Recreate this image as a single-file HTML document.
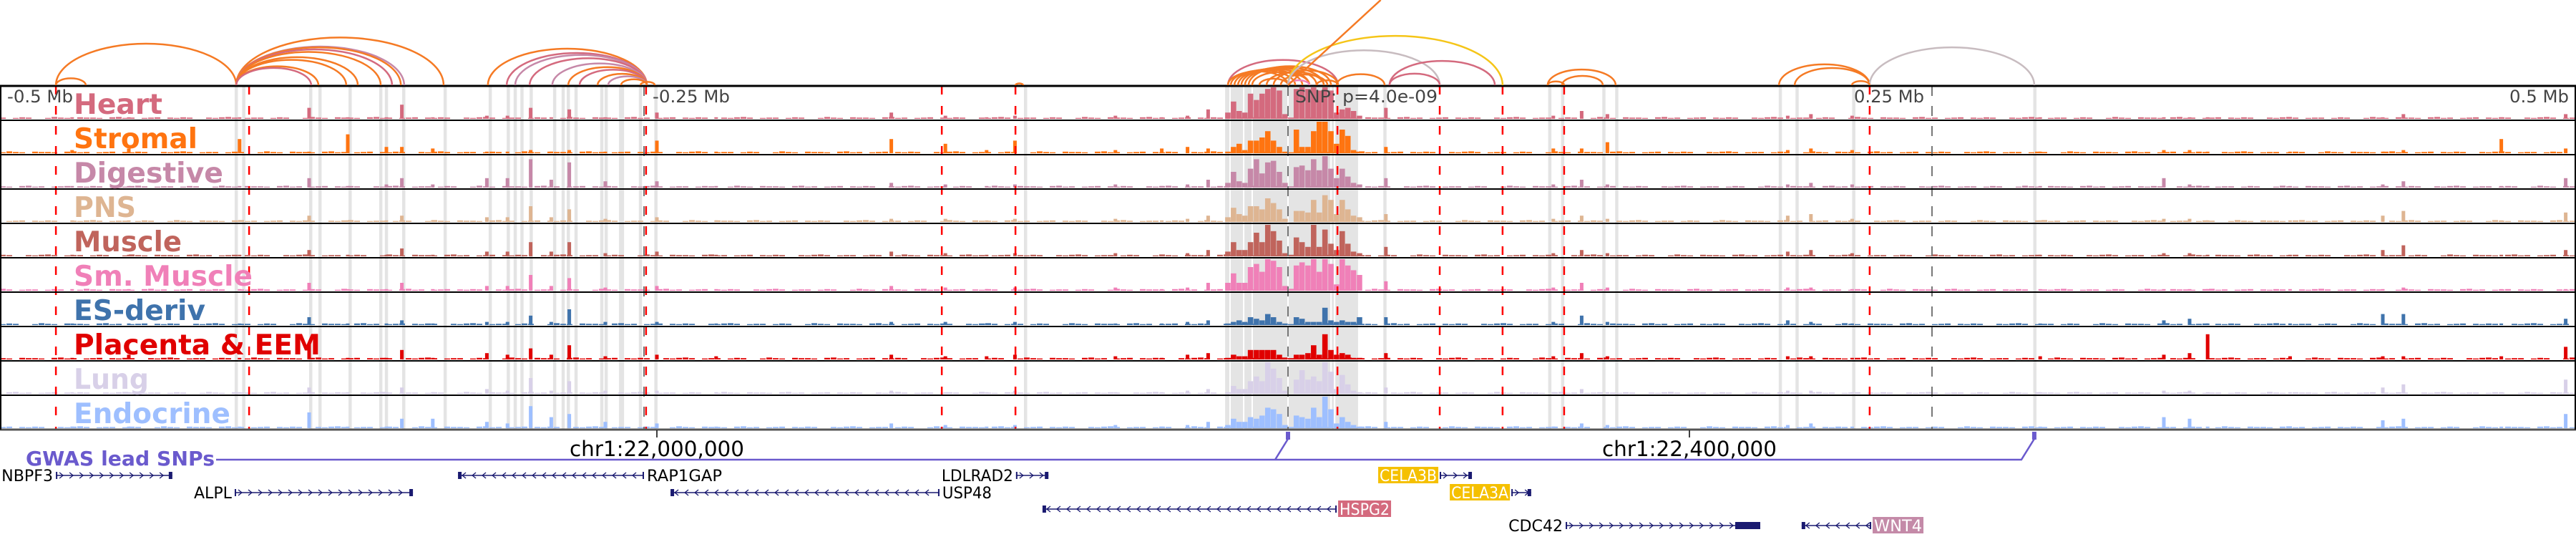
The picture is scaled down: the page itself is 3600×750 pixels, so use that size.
<!DOCTYPE html>
<html><head><meta charset="utf-8"><style>
html,body{margin:0;padding:0;background:#fff;}
svg{display:block;}
text{font-family:"DejaVu Sans","Liberation Sans",sans-serif;}
</style></head>
<body>
<svg id="chart" width="3600" height="750" viewBox="0 0 3600 750" xmlns="http://www.w3.org/2000/svg">
<g id="bands"></g>
<g id="signals"></g>
<g id="vlines"></g>
<g id="frame"></g>
<g id="arcs"></g>
<g id="labels"></g>
<g id="axis"></g>
<g id="gwas"></g>
<g id="genes"></g>
</svg>
<script>
// ---- data (positions in kb relative to lead SNP) ----
const trackNames = ["Heart","Stromal","Digestive","PNS","Muscle","Sm. Muscle","ES-deriv","Placenta & EEM","Lung","Endocrine"];
const trackColors = ["#d46a7e","#ff7410","#c688a8","#deb592","#c0645c","#f080b8","#3f73ac","#e00000","#d8d0e8","#9ebfff"];
const labelWidths = [124,173,209,87,151,250,184,345,105,219];
const clusterBins = [-24.4,-22.2,-20,-17.8,-15.6,-13.3,-11.1,-8.9,-6.7,-4.4,-2.2,0,2.2,4.4,6.7,8.9,11.1,13.3,15.6,17.8,20,22.2,24.4,26.7];
const clusterHeart = [.2,.55,.25,.2,.8,.6,.8,.95,1,.9,.15,0,.95,1,.95,1,.9,1,.9,.2,.3,.35,.25,.1];
const clusterStromal = [.05,.2,.3,.1,.4,.4,.5,.7,.4,.2,.05,0,.75,.2,.2,.7,1,1,.7,.3,.75,.55,.1,.05];
const clusterDigestive = [.15,.5,.2,.15,.6,.9,.45,.8,.85,.5,.15,0,.65,.7,.55,.9,.55,1,.6,.3,.6,.35,.15,.1];
const clusterPNS = [.15,.45,.25,.2,.5,.5,.4,.75,.6,.4,.1,0,.35,.35,.3,.7,.3,.85,.7,.25,.7,.4,.2,.15];
const clusterMuscle = [.15,.45,.2,.2,.45,.75,.45,1,.8,.5,.1,0,.6,.45,.3,1,.3,.85,.4,.2,.8,.4,.15,.1];
const clusterSmMuscle = [.25,.55,.25,.25,.75,.85,.6,1,.95,.75,.15,0,.8,.9,.8,1,.6,1,.85,.2,1,.8,.65,.5];
const clusterES = [.05,.1,.15,.1,.25,.2,.15,.35,.25,.1,.05,0,.25,.2,.1,.1,.1,.55,.15,.1,.15,.1,.1,.25];
const clusterPlacenta = [.05,.15,.1,.1,.3,.3,.3,.3,.3,.15,.05,0,.15,.15,.2,.45,.15,.8,.3,.15,.2,.15,.05,.05];
const clusterLung = [.05,.25,.15,.15,.4,.55,.4,1,.8,.5,.1,0,.45,.75,.45,.55,.4,1,.7,.15,.6,.3,.1,.05];
const clusterEndocrine = [.1,.3,.2,.2,.35,.3,.4,.65,.6,.45,.1,0,.4,.35,.3,.65,.35,1,.6,.15,.35,.2,.1,.05];
const peakPos = [-472,-450,-407,-380,-365,-350,-344,-332,-311,-303,-294,-286,-279,-265,-245,-222,-154,-133,-117,-106,-67,-49,-39,-31,38,103,114,124,194,203,219,292,340,350,357,389,425,433,471,496];
const peaksHeart = [.05,.05,.05,.35,.05,.05,.45,.05,.1,.1,.35,.05,.3,.05,.2,.05,.2,.1,.05,.1,.1,.05,.1,.3,.35,.1,.25,.15,.1,.15,.1,.05,.05,.05,.05,.05,.05,.15,.05,.15];
const peaksStromal = [.1,.15,.45,.05,.6,.2,.2,.15,.05,.05,.1,.05,.1,.05,.4,.05,.45,.3,.1,.4,.1,.15,.2,.15,.2,.15,.15,.35,.1,.15,.1,.05,.1,.1,.05,.05,.05,.1,.45,.15];
const peaksDigestive = [.05,.05,.05,.3,.05,.1,.3,.1,.3,.3,.9,.25,.8,.2,.2,.05,.15,.1,.05,.1,.1,.05,.1,.25,.3,.1,.25,.1,.1,.15,.1,.05,.3,.1,.05,.05,.1,.2,.05,.3];
const peaksPNS = [.05,.05,.05,.2,.05,.05,.2,.05,.15,.15,.5,.15,.4,.1,.15,.05,.1,.1,.05,.1,.1,.05,.1,.2,.25,.1,.2,.1,.2,.25,.1,.05,.1,.1,.05,.05,.2,.35,.05,.3];
const peaksMuscle = [.05,.05,.05,.2,.05,.05,.25,.05,.15,.15,.45,.15,.45,.1,.15,.05,.15,.1,.05,.1,.1,.05,.1,.2,.3,.1,.2,.1,.15,.2,.1,.05,.1,.1,.05,.05,.2,.35,.05,.2];
const peaksSmMuscle = [.05,.05,.05,.25,.05,.05,.25,.05,.15,.15,.5,.15,.4,.1,.15,.05,.15,.1,.05,.1,.1,.05,.1,.25,.3,.1,.25,.1,.1,.1,.05,.05,.05,.05,.05,.05,.05,.1,.05,.05];
const peaksES = [.05,.05,.05,.25,.05,.05,.15,.05,.1,.1,.3,.1,.5,.1,.1,.05,.1,.1,.05,.1,.05,.05,.1,.15,.25,.1,.3,.1,.15,.1,.05,.05,.15,.2,.05,.05,.35,.35,.05,.2];
const peaksPlacenta = [.05,.15,.05,.5,.05,.05,.3,.05,.2,.15,.35,.15,.45,.1,.15,.1,.15,.1,.1,.15,.1,.05,.15,.2,.2,.1,.2,.1,.1,.1,.05,.1,.15,.2,.8,.1,.1,.1,.1,.4];
const peaksLung = [.05,.05,.05,.2,.05,.05,.2,.05,.15,.1,.5,.1,.4,.1,.1,.05,.1,.05,.05,.1,.05,.05,.1,.15,.2,.05,.15,.05,.1,.1,.05,.05,.1,.1,.05,.05,.2,.3,.05,.45];
const peaksEndocrine = [.05,.05,.05,.5,.05,.05,.3,.3,.2,.15,.7,.35,.45,.2,.15,.05,.15,.1,.05,.1,.1,.05,.1,.2,.2,.05,.15,.1,.1,.15,.05,.05,.35,.3,.05,.05,.25,.3,.05,.45];
const baseNoise = [.04,0,.03,.05,.04,0,0,.03,.06,.04,.03,0,.05,.04,.04,.03,0,.05,.06,.03,.04,0,.03,.04,.05,0,.04,.03,.05,.04,0,0,.04,.03,.05,.06,.04,0,.03,.04];
const bandStarts = [-408.9,-406,-380,-376.4,-364.7,-352.8,-350.6,-343.9,-327.8,-310.3,-303.3,-300.6,-298,-294.4,-285.3,-282,-280,-277,-267,-265.3,-259.7,-259,-252,-246,-102.5,37,101,106,122,127,190.5,197,219,289.3];
const clusterBand = [-24.4,27.2];
const clusterSeparators = [-22.5,-17.2,-13.9,0,16.7,18.1];
const redLines = [-478.3,-403.3,-249.2,-134.4,-105.8,19.2,58.9,83.3,107.2,225.8];
const grayTicks = [-250,0,250];
const arcStarts = [-478.3,-478.3,-408.3,-408.3,-408.3,-408.3,-408.3,-408.3,-408.3,-408.3,-408.3,-310.6,-303.3,-300,-294.4,-285.6,-279.4,-275,-268,-263.9,-258.9,-251.4,-105.8,-23.3,-23.3,-22.2,-20.8,-19.4,-18.1,-16.7,-15.3,-13.9,-11.1,-8.3,-5.6,-2.8,0,0,0,39.4,39.4,18.9,11.1,100.8,106.4,100.8,190.6,196.7,225.8,218.9];
const arcEnds = [-408.3,-466.7,-327.8,-343.1,-344.4,-347.8,-352.2,-361.1,-365.6,-376.4,-379.2,-248.9,-248.9,-248.9,-248.9,-248.9,-248.9,-248.9,-248.9,-248.9,-248.9,-245.8,-102.8,19.4,0,2.8,5.6,8.3,11.1,13.9,16.7,8.3,0,13.9,19.4,15.3,8.3,83.3,58.9,80.3,58.9,37.5,19.4,127.2,122.2,107.2,225.8,225.8,289.7,225.8];
const arcColors = ["O","O","O","M","O","P","O","O","O","O","P","O","P","M","P","M","O","P","O","M","O","O","O","P","O","O","O","O","O","O","O","O","O","O","O","O","S","Y","G","P","P","O","O","O","O","O","O","O","G","O"];
const longLinkStart = 0, longLinkTopKb = 36;
const geneNames = ["NBPF3","ALPL","RAP1GAP","USP48","LDLRAD2","HSPG2","CELA3B","CELA3A","CDC42","WNT4"];
const geneStarts = [-478.3,-408.9,-322.2,-239.7,-105.6,-95.3,58.9,86.7,107.8,199.4];
const geneEnds = [-433.1,-339.7,-250,-135.3,-93,18.9,71.4,94.4,183.3,226.4];
const geneRows = [0,1,0,1,0,2,0,1,3,3];
const geneStrands = [1,1,-1,-1,1,-1,1,1,1,-1];
const geneLabelWidths = [72,53,105,69,100,70,80,80,76,67];
const geneBoxColors = [null,null,null,null,null,"#d46a7e","#f5c000","#f5c000",null,"#c48aa8"];
const snpPositions = [0,289.7];
// ---- scales ----
const NS="http://www.w3.org/2000/svg";
const X = kb => 1800 + kb*3.6;
const TRACK_TOP = 120, TRACK_H = 48, TRACK_MAX = 44;
function mk(tag, attrs, parent){const e=document.createElementNS(NS,tag);for(const k in attrs)e.setAttribute(k,attrs[k]);parent.appendChild(e);return e;}
const gBands=document.getElementById('bands'),gSig=document.getElementById('signals'),gV=document.getElementById('vlines'),gF=document.getElementById('frame'),gA=document.getElementById('arcs'),gL=document.getElementById('labels'),gAx=document.getElementById('axis'),gG=document.getElementById('gwas'),gGe=document.getElementById('genes');
// bands
bandStarts.forEach(s=>{const r=mk('rect',{x:X(s),y:TRACK_TOP,width:4.5,height:TRACK_H*10,fill:'#e4e4e4'},gBands);

});
{const r=mk('rect',{x:X(clusterBand[0]),y:TRACK_TOP,width:X(clusterBand[1])-X(clusterBand[0]),height:TRACK_H*10,fill:'#e4e4e4'},gBands);


clusterSeparators.forEach(s=>{const l=mk('rect',{x:X(s)-1,y:TRACK_TOP,width:2,height:TRACK_H*10,fill:'#fff'},gBands);

});}
// signals
const clusters=[clusterHeart,clusterStromal,clusterDigestive,clusterPNS,clusterMuscle,clusterSmMuscle,clusterES,clusterPlacenta,clusterLung,clusterEndocrine];
const peaks=[peaksHeart,peaksStromal,peaksDigestive,peaksPNS,peaksMuscle,peaksSmMuscle,peaksES,peaksPlacenta,peaksLung,peaksEndocrine];
for(let t=0;t<10;t++){
  const g=mk('g',{fill:trackColors[t]},gSig);
  
  
  const base=TRACK_TOP+TRACK_H*(t+1)-2;
  for(let i=0;i<400;i++){const v=baseNoise[(i+t*7)%baseNoise.length];if(!v)continue;
    mk('rect',{x:i*9,y:base-v*TRACK_MAX,width:8,height:v*TRACK_MAX},g);}
  peakPos.forEach((p,i)=>{const v=peaks[t][i];const b=mk('rect',{x:X(p)-2.5,y:base-v*TRACK_MAX,width:5,height:v*TRACK_MAX},g);
    
    });
  clusterBins.forEach((p,i)=>{const v=clusters[t][i];if(!v)return;const b=mk('rect',{x:X(p),y:base-v*TRACK_MAX,width:7.6,height:v*TRACK_MAX},g);
    
    });
}
// vertical lines
grayTicks.forEach(k=>{const l=mk('line',{x1:X(k),x2:X(k),y1:TRACK_TOP,y2:600,stroke:'#777','stroke-width':2,'stroke-dasharray':'14 14'},gV);

});
redLines.forEach(k=>{const l=mk('line',{x1:X(k),x2:X(k),y1:TRACK_TOP,y2:600,stroke:'#ff0000','stroke-width':2.5,'stroke-dasharray':'12 16'},gV);

});
// frame
for(let t=0;t<=10;t++){const y=TRACK_TOP+TRACK_H*t;const l=mk('line',{x1:0,x2:3600,y1:y,y2:y,stroke:t==10?'#555':'#000','stroke-width':t==0||t==10?3:2},gF);

}
mk('line',{x1:1,x2:1,y1:120,y2:600,stroke:'#000','stroke-width':2},gF);
mk('line',{x1:3599,x2:3599,y1:120,y2:600,stroke:'#000','stroke-width':2},gF);
// arcs
const colMap={O:'#f57a24',P:'#d46a7e',M:'#c688a8',Y:'#f5c518',G:'#c8bcc0',S:'#f080b8'};
arcStarts.forEach((s,i)=>{const x1=X(s),x2=X(arcEnds[i]);const w=x2-x1;const h=0.23*w;
  const p=mk('path',{d:`M${x1},119 A${w/2},${h} 0 0 1 ${x2},119`,fill:'none',stroke:colMap[arcColors[i]],'stroke-width':2.5},gA);
  
  });
{const l=mk('line',{x1:X(longLinkStart),y1:119,x2:X(longLinkTopKb),y2:0,stroke:'#f57a24','stroke-width':2.5},gA);

}
// track labels
trackNames.forEach((n,i)=>{const t=mk('text',{x:103,y:TRACK_TOP+TRACK_H*i+39,fill:trackColors[i],'font-size':39,'font-weight':'bold',textLength:labelWidths[i],lengthAdjust:'spacingAndGlyphs'},gL);
t.textContent=n;

});
// axis labels
const axisLabels=[["-0.5 Mb",10,92],["-0.25 Mb",912,108],["SNP: p=4.0e-09",1810,199],["0.25 Mb",2591,98],["0.5 Mb",3507,83]];
axisLabels.forEach(a=>{const t=mk('text',{x:a[1],y:143,fill:'#444','font-size':24,textLength:a[2],lengthAdjust:'spacingAndGlyphs'},gAx);
t.textContent=a[0];

});
// coordinates
[["chr1:22,000,000",918],["chr1:22,400,000",2361]].forEach(c=>{
 mk('line',{x1:c[1],x2:c[1],y1:601,y2:611,stroke:'#000','stroke-width':1.5},gG);
 const t=mk('text',{x:c[1]-122,y:637,fill:'#000','font-size':29,textLength:244,lengthAdjust:'spacingAndGlyphs'},gG);
 t.textContent=c[0];
 
 });
// gwas
{const t=mk('text',{x:36,y:650,fill:'#6a5acd','font-size':28,'font-weight':'bold',textLength:264,lengthAdjust:'spacingAndGlyphs'},gG);
t.textContent='GWAS lead SNPs';


const s0=X(snpPositions[0]),s1=X(snpPositions[1]);
mk('path',{d:`M302,642 L${s0-18},642 L${s0},613 M${s0-18},642 L${s1-18},642 L${s1},613`,fill:'none',stroke:'#6a5acd','stroke-width':2.5},gG);
snpPositions.forEach(k=>{const r=mk('rect',{x:X(k)-3,y:603,width:6,height:11,fill:'#6a5acd'},gG);

});}
// genes
const rowY=[664,688,711,734];
geneNames.forEach((n,i)=>{const g=mk('g',{},gGe);
 
 
 const x1=X(geneStarts[i]),x2=X(geneEnds[i]),y=rowY[geneRows[i]],dir=geneStrands[i];
 mk('line',{x1:x1,x2:x2,y1:y,y2:y,stroke:'#1a1a70','stroke-width':1.5},g);
 for(let x=x1+8;x<x2-4;x+=14){mk('path',{d:dir>0?`M${x-3},${y-4} L${x+2},${y} L${x-3},${y+4}`:`M${x+3},${y-4} L${x-2},${y} L${x+3},${y+4}`,fill:'none',stroke:'#1a1a70','stroke-width':1.3},g);}
 mk('rect',{x:dir>0?x2-5:x1,y:y-5,width:5,height:10,fill:'#1a1a70'},g);
 mk('rect',{x:dir>0?x1:x2-2,y:y-5,width:2,height:10,fill:'#1a1a70'},g);
 const lw=geneLabelWidths[i];const lx=dir>0?x1-lw-4:x2+4;
 if(geneBoxColors[i]) mk('rect',{x:lx-2,y:y-12,width:lw+4,height:23,fill:geneBoxColors[i]},g);
 const t=mk('text',{x:lx,y:y+8,fill:geneBoxColors[i]?'#fff':'#000','font-size':22,textLength:lw,lengthAdjust:'spacingAndGlyphs'},g);
 t.textContent=n;
 
 
});
// thick CDC42 exon
{const r=mk('rect',{x:2425,y:729,width:35,height:10,fill:'#1a1a70'},gGe);

}
</script>
</body></html>
